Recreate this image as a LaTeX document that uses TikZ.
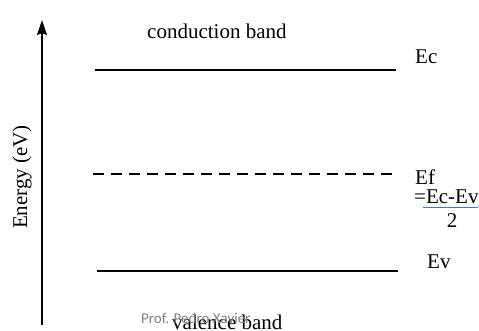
\documentclass[tikz,border=0pt]{standalone}
\usepackage{fontspec}
\setmainfont{Liberation Serif}
\newfontfamily\wmfont{Carlito}
\usetikzlibrary{arrows.meta}
\definecolor{barblue}{HTML}{4472C4}
\definecolor{wmgray}{HTML}{808080}
\tikzset{
  lbl/.style={inner sep=0pt, anchor=base west, font=\fontsize{21}{24}\selectfont},
  level/.style={line width=1.8pt},
  dashlevel/.style={line width=1.8pt, dash pattern=on 11pt off 7pt},
}
\begin{document}
\begin{tikzpicture}[x=1pt,y=-1pt]
\useasboundingbox (0,0) rectangle (479,330);
% axis
\coordinate (ax0) at (42,325);
\coordinate (ax1) at (42,20);
\draw[line width=1.8pt, -{Stealth[length=15pt,width=10pt,inset=2pt]}] (ax0) -- (ax1);
\node[inner sep=0pt, rotate=90, font=\fontsize{21}{24}\selectfont] (elab) at (22,177) {Energy (eV)};
% levels
\coordinate (c0) at (95,70);  \coordinate (c1) at (396,70);
\coordinate (f0) at (93,174); \coordinate (f1) at (392,174);
\coordinate (v0) at (97,271); \coordinate (v1) at (398,271);
\draw[level] (c0) -- (c1);
\draw[dashlevel] (f0) -- (f1);
\draw[level] (v0) -- (v1);
% labels
\node[lbl] (cb) at (147,38) {conduction band};
\node[lbl] (ec) at (415,63) {Ec};
\node[lbl] (ef) at (415,184) {Ef};
\node[lbl] (eq) at (414,203) {=Ec-Ev};
\coordinate (b0) at (423,207.5); \coordinate (b1) at (478,207.5);
\draw[barblue, line width=0.9pt] (b0) -- (b1);
\node[lbl, anchor=base] (two) at (452,227) {2};
\node[lbl] (ev) at (427,268) {Ev};
\node[lbl] (vb) at (172,329) {valence band};
\node[inner sep=0pt, anchor=base west, font=\wmfont\fontsize{15}{18}\selectfont, text=wmgray] (wm) at (141,323) {Prof. Pedro Xavier};
\end{tikzpicture}
\end{document}
